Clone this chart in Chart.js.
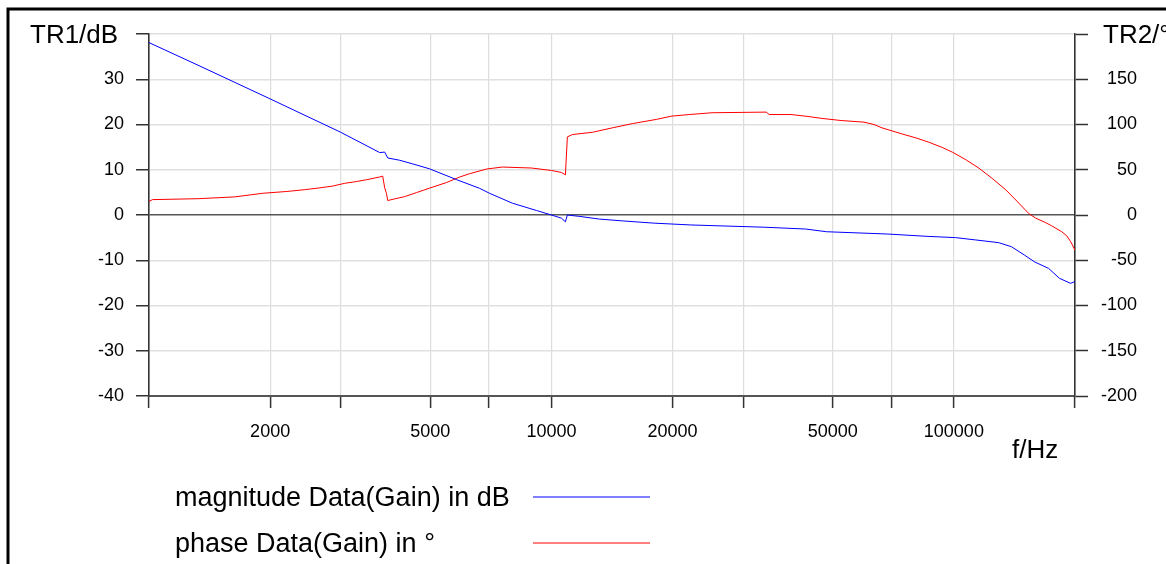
<!DOCTYPE html>
<html>
<head>
<meta charset="utf-8">
<title>Gain</title>
<script src="https://cdn.jsdelivr.net/npm/chart.js@4.4.0/dist/chart.umd.min.js"></script>
<style>
  html, body { margin: 0; padding: 0; background: #fff; }
  canvas { display: block; }
</style>
</head>
<body>
<canvas id="gainChart" width="1166" height="564"></canvas>
<script>
// Magnitude sweep (left axis, dB)
const magFreq = [1000, 1339, 1985, 2993, 3743, 3852, 3920, 4196, 4519, 4981, 5817, 6627, 7018, 8003, 9180,
  10000, 10588, 10832, 10956, 11725, 13150, 15000, 18000, 22200, 33800, 42800, 48300, 68300, 85200,
  101000, 113000, 129000, 139000, 150000, 159000, 172000, 183000, 195000, 200000];
const magDb = [38.1, 32.9, 25.8, 18.3, 13.8, 13.9, 12.6, 12.1, 11.3, 10.2, 7.8, 5.9, 4.8, 2.6, 1.0,
  0.0, -0.7, -1.5, 0.0, -0.3, -0.9, -1.3, -1.8, -2.2, -2.7, -3.1, -3.7, -4.2, -4.7,
  -5.0, -5.5, -6.1, -7.0, -8.9, -10.4, -11.8, -14.0, -15.1, -14.7];

// Phase sweep (right axis, degrees)
const phaseFreq = [1000, 1020, 1323, 1634, 1918, 2200, 2439, 2657, 2862, 3064, 3282, 3475, 3743, 3808,
  3852, 3890, 3920, 4077, 4318, 4624, 4981, 5489, 5910, 6259, 6899, 7557, 8922, 10000, 10588, 10832,
  10956, 11275, 12640, 14170, 15890, 18220, 19850, 22000, 25080, 34170, 34760, 39400, 43180, 47050,
  52450, 59800, 63320, 66280, 69780, 74300, 80490, 86700, 93400, 99400, 107100, 115300, 124300,
  134600, 143300, 153600, 159800, 169200, 175100, 185400, 190800, 195200, 200000];
const phaseDeg = [15, 17, 18, 20, 24, 26, 28, 30, 32, 35, 37, 39, 42, 43,
  30, 24, 16, 17.8, 20.3, 24.8, 29.7, 35.9, 41.9, 45.6, 50.8, 53, 51.9, 49.2, 47, 44.4,
  86.3, 88.9, 91.4, 96.3, 101, 105.6, 109.2, 111, 113, 113.7, 111, 111, 109, 106.7,
  104.4, 102.6, 100, 96.3, 93.3, 89.6, 85.2, 80.4, 74.8, 69.2, 61.1, 51.9, 40.7,
  27.8, 15.5, 1.5, -3.5, -8.5, -12, -18.5, -23, -29.6, -38.9];

const seriesLabels = ['magnitude Data(Gain) in dB', 'phase Data(Gain) in °'];
const seriesColors = ['#0000ff', '#ff0000'];

// tick marks on the frequency axis, only some of them get a label
const xTicks = [1000, 2000, 3000, 5000, 7000, 10000, 20000, 30000, 50000, 70000, 100000, 200000];
const xLabels = [2000, 5000, 10000, 20000, 50000, 100000];

const FONT = '"Liberation Sans", Arial, sans-serif';

// frame, axis titles and legend rows
const decorations = {
  id: 'decorations',
  beforeDraw(chart) {
    const ctx = chart.ctx;
    ctx.save();
    ctx.fillStyle = '#fff';
    ctx.fillRect(0, 0, chart.width, chart.height);
    ctx.strokeStyle = '#000';
    ctx.lineWidth = 3;
    ctx.beginPath();
    ctx.moveTo(8, chart.height);
    ctx.lineTo(8, 9);
    ctx.lineTo(chart.width, 9);
    ctx.stroke();
    ctx.restore();
  },
  afterDraw(chart) {
    const ctx = chart.ctx;
    ctx.save();
    ctx.fillStyle = '#000';
    ctx.textBaseline = 'alphabetic';
    ctx.font = '26px ' + FONT;
    ctx.fillText('TR1/dB', 30, 43);
    ctx.fillText('TR2/°', 1103, 43);
    ctx.fillText('f/Hz', 1012, 458);

    ctx.font = '27px ' + FONT;
    chart.data.datasets.forEach((ds, i) => {
      const y = 497 + i * 46;
      ctx.fillText(ds.label, 175, y + 9);
      ctx.strokeStyle = ds.borderColor;
      ctx.lineWidth = 1;
      ctx.beginPath();
      ctx.moveTo(533, y);
      ctx.lineTo(650, y);
      ctx.stroke();
    });
    ctx.restore();
  }
};

const tickFont = { family: FONT, size: 18 };

new Chart(document.getElementById('gainChart'), {
  type: 'line',
  data: {
    datasets: [
      {
        label: seriesLabels[0],
        data: magFreq.map((f, i) => ({ x: f, y: magDb[i] })),
        borderColor: seriesColors[0],
        yAxisID: 'y'
      },
      {
        label: seriesLabels[1],
        data: phaseFreq.map((f, i) => ({ x: f, y: phaseDeg[i] })),
        borderColor: seriesColors[1],
        yAxisID: 'y2'
      }
    ]
  },
  options: {
    responsive: false,
    animation: false,
    devicePixelRatio: 1,
    layout: { padding: { left: 0, right: 29, top: 34, bottom: 0 } },
    elements: {
      point: { radius: 0 },
      line: { borderWidth: 1, tension: 0 }
    },
    plugins: {
      legend: { display: false },
      tooltip: { enabled: false }
    },
    scales: {
      x: {
        type: 'logarithmic',
        min: 1000,
        max: 200000,
        afterBuildTicks: (s) => { s.ticks = xTicks.map(v => ({ value: v })); },
        afterFit: (s) => { s.height = 168; },
        ticks: {
          autoSkip: false,
          maxRotation: 0,
          padding: 13,
          color: '#000',
          font: tickFont,
          callback: (v) => xLabels.includes(v) ? String(v) : ''
        },
        grid: {
          color: (c) => (c.tick && (c.tick.value === 1000 || c.tick.value === 200000)) ? '#333' : '#dddddd',
          lineWidth: 1.2,
          tickLength: 12,
          tickColor: '#333',
          tickWidth: 1.5
        },
        border: { color: '#555', width: 2 }
      },
      y: {
        position: 'left',
        min: -40,
        max: 40,
        afterFit: (s) => { s.width = 149; },
        ticks: {
          stepSize: 10,
          padding: 12,
          color: '#000',
          font: tickFont,
          callback: (v) => v === 40 ? '' : v
        },
        grid: {
          color: (c) => (c.tick && c.tick.value === 0) ? '#555' : '#e0e0e0',
          lineWidth: 1.5,
          tickLength: 13,
          tickColor: '#333',
          tickWidth: 1.5
        },
        border: { color: '#333', width: 1.5 }
      },
      y2: {
        position: 'right',
        min: -200,
        max: 200,
        afterFit: (s) => { s.width = 62; },
        ticks: {
          stepSize: 50,
          crossAlign: 'far',
          color: '#000',
          font: tickFont,
          callback: (v) => v === 200 ? '' : v
        },
        grid: {
          drawOnChartArea: false,
          tickLength: 13,
          tickColor: '#333',
          tickWidth: 1.5
        },
        border: { color: '#333', width: 1.5 }
      }
    }
  },
  plugins: [decorations]
});
</script>
</body>
</html>
